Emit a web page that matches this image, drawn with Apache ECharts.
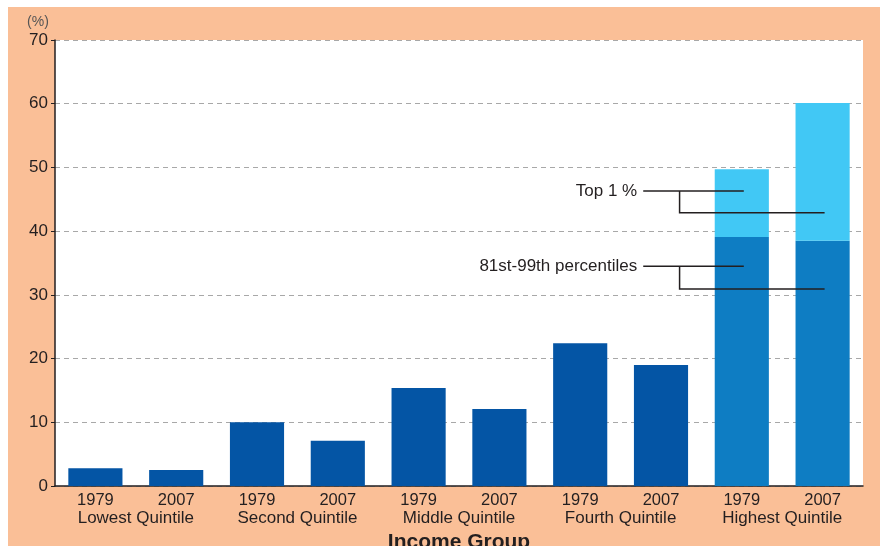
<!DOCTYPE html>
<html>
<head>
<meta charset="utf-8">
<script src="https://cdn.jsdelivr.net/npm/echarts@6/dist/echarts.min.js"></script>
<style>
  html, body { margin: 0; padding: 0; background: #fff; }
  #main { width: 880px; height: 546px; }
</style>
</head>
<body>
<div id="main"></div>
<script>
const years = ['1979', '2007', '1979', '2007', '1979', '2007', '1979', '2007', '1979', '2007']
const groups = ['Lowest Quintile', 'Second Quintile', 'Middle Quintile', 'Fourth Quintile', 'Highest Quintile']
// share of total, % (highest quintile split into 81st-99th and top 1%)
const baseShare = [2.8, 2.5, 10.0, 7.1, 15.4, 12.1, 22.4, 19.0, 39.1, 38.5]
const top1Share = [null, null, null, null, null, null, null, null, 10.6, 21.6]
const yTicks = [0, 10, 20, 30, 40, 50, 60, 70]

const font = 'Liberation Sans, Arial, Helvetica, sans-serif'
const ink = '#231f20'

const chart = echarts.init(document.getElementById('main'))

chart.setOption({
  animation: false,
  backgroundColor: '#fff',
  textStyle: { fontFamily: font },
  grid: {
    left: 55, right: 17, top: 40, bottom: 60,
    outerBoundsMode: 'none',
    containLabel: false,
    show: true, backgroundColor: '#fff', borderWidth: 0
  },
  xAxis: [
    {
      type: 'category',
      data: years,
      axisLine: { lineStyle: { color: ink, width: 1.5 } },
      axisTick: { inside: true, length: 4, lineStyle: { color: ink } },
      axisLabel: { color: ink, fontSize: 16.5, margin: 6, fontFamily: font }
    },
    {
      type: 'category',
      data: groups,
      position: 'bottom',
      offset: 19,
      axisLine: { show: false },
      axisTick: { show: false },
      axisLabel: { color: ink, fontSize: 17, margin: 5, fontFamily: font },
      name: 'Income Group',
      nameLocation: 'middle',
      nameGap: 22,
      nameTextStyle: { color: ink, fontSize: 21, fontWeight: 'bold', fontFamily: font }
    }
  ],
  yAxis: {
    type: 'value',
    min: yTicks[0],
    max: yTicks[yTicks.length - 1],
    interval: 10,
    axisLine: { show: true, lineStyle: { color: ink, width: 1.5 } },
    axisTick: { show: true, length: 4, lineStyle: { color: ink } },
    axisLabel: { color: ink, fontSize: 17, margin: 7, fontFamily: font },
    splitLine: { lineStyle: { color: '#a8a8a8', type: [5, 4], width: 1 } }
  },
  series: [
    {
      name: 'base',
      type: 'bar',
      stack: 'share',
      barCategoryGap: '33%',
      data: baseShare,
      itemStyle: {
        color: p => (p.dataIndex >= 8 ? '#0e7dc3' : '#0455a5')
      }
    },
    {
      name: 'Top 1 %',
      type: 'bar',
      stack: 'share',
      data: top1Share,
      itemStyle: { color: '#41c8f5' }
    }
  ]
})

// peach frame, "(%)" label and the two leader-line annotations
function px (i, y) { return chart.convertToPixel({ gridIndex: 0 }, [i, y]) }
function note (text, yLabel, yLow) {
  const a = px(8, yLabel)
  const c = px(9, yLow)
  const band = c[0] - a[0]
  const start = a[0] - 1.22 * band
  const mid = a[0] - 0.77 * band
  const style = { stroke: ink, lineWidth: 1.5 }
  return [
    { type: 'text', z: 100, x: start - 6, y: a[1], style: { text, fill: ink, font: '17px ' + font, align: 'right', verticalAlign: 'middle' } },
    { type: 'polyline', z: 100, shape: { points: [[start, a[1]], [a[0] + 2, a[1]]] }, style },
    { type: 'polyline', z: 100, shape: { points: [[mid, a[1]], [mid, c[1]], [c[0] + 2, c[1]]] }, style }
  ]
}

chart.setOption({
  graphic: [
    { type: 'rect', z: -10, silent: true, shape: { x: 8, y: 7, width: 872, height: 539 }, style: { fill: '#fabf97' } },
    { type: 'text', x: 38, y: 22, style: { text: '(%)', fill: '#555', font: '14px ' + font, align: 'center', verticalAlign: 'middle' } }
  ].concat(note('Top 1 %', 46.3, 42.9), note('81st-99th percentiles', 34.5, 30.9))
})
</script>
</body>
</html>
